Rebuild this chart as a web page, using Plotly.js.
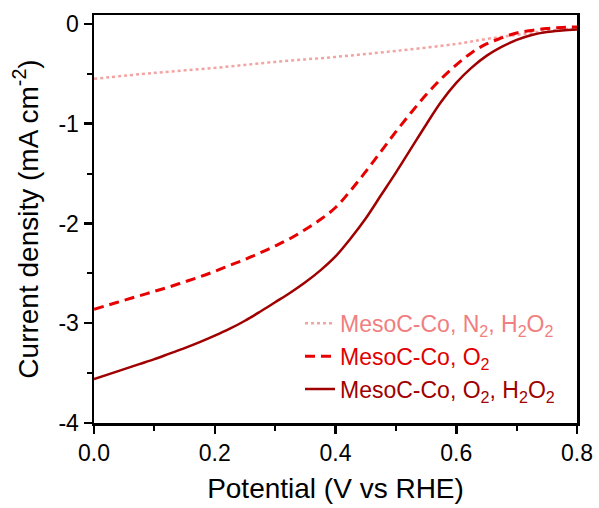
<!DOCTYPE html>
<html>
<head>
<meta charset="utf-8">
<script src="https://cdn.plot.ly/plotly-3.0.1.min.js"></script>
<style>html,body{margin:0;padding:0;background:#fff;}#chart{width:599px;height:508px;}</style>
</head>
<body>
<div id="chart"></div>
<script>
// N2, H2O2 (dotted)
const vN2 = [0, 0.1, 0.2, 0.3, 0.4, 0.5, 0.6, 0.65, 0.7, 0.75, 0.8];
const jN2 = [-0.55, -0.49, -0.44, -0.38, -0.33, -0.27, -0.20, -0.15, -0.11, -0.07, -0.045];

// O2 (dashed)
const vO2 = [0, 0.025, 0.05, 0.075, 0.1, 0.125, 0.15, 0.175, 0.2, 0.225, 0.25, 0.275, 0.3, 0.325, 0.35, 0.375, 0.4, 0.425, 0.45, 0.475, 0.5, 0.525, 0.55, 0.575, 0.6, 0.625, 0.65, 0.675, 0.7, 0.725, 0.75, 0.775, 0.8];
const jO2 = [-2.86, -2.815, -2.77, -2.725, -2.68, -2.635, -2.585, -2.535, -2.48, -2.42, -2.36, -2.295, -2.225, -2.15, -2.06, -1.96, -1.84, -1.67, -1.48, -1.28, -1.08, -0.89, -0.71, -0.55, -0.41, -0.29, -0.20, -0.14, -0.09, -0.065, -0.045, -0.035, -0.03];

// O2, H2O2 (solid)
const vO2H = [0, 0.025, 0.05, 0.075, 0.1, 0.125, 0.15, 0.175, 0.2, 0.225, 0.25, 0.275, 0.3, 0.325, 0.35, 0.375, 0.4, 0.425, 0.45, 0.475, 0.5, 0.525, 0.55, 0.575, 0.6, 0.625, 0.65, 0.675, 0.7, 0.725, 0.75, 0.775, 0.8];
const jO2H = [-3.56, -3.51, -3.46, -3.41, -3.36, -3.305, -3.25, -3.19, -3.125, -3.055, -2.975, -2.885, -2.79, -2.695, -2.59, -2.47, -2.33, -2.15, -1.95, -1.72, -1.49, -1.25, -1.01, -0.78, -0.59, -0.44, -0.32, -0.23, -0.16, -0.11, -0.08, -0.065, -0.055];

const names = [
  '<span style="color:#F08080">MesoC-Co, N<sub>2</sub>, H<sub>2</sub>O<sub>2</sub></span>',
  '<span style="color:#E00000">MesoC-Co, O<sub>2</sub></span>',
  '<span style="color:#A00000">MesoC-Co, O<sub>2</sub>, H<sub>2</sub>O<sub>2</sub></span>'
];

const font = 'Arial, "Liberation Sans", sans-serif';

const traces = [
  {x: vN2, y: jN2, mode: 'lines', name: names[0], line: {color: '#F4A3A3', width: 2.5, dash: 'dot', shape: 'spline'}},
  {x: vO2, y: jO2, mode: 'lines', name: names[1], line: {color: '#E80000', width: 3, dash: '10px,6px', shape: 'spline'}},
  {x: vO2H, y: jO2H, mode: 'lines', name: names[2], line: {color: '#A00000', width: 2.5, shape: 'spline'}}
];

const axisCommon = {
  showline: true, linecolor: '#000', linewidth: 2.5, mirror: true,
  ticks: 'outside', ticklen: 8, tickwidth: 2.5, tickcolor: '#000',
  showgrid: false, zeroline: false,
  tickfont: {family: font, size: 23, color: '#000'}
};

const layout = {
  width: 599, height: 508,
  margin: {l: 94, r: 22, t: 15, b: 85},
  paper_bgcolor: '#fff', plot_bgcolor: '#fff',
  font: {family: font, color: '#000'},
  showlegend: true,
  legend: {x: 0.4265, y: 0.297, xanchor: 'left', yanchor: 'top', bgcolor: 'rgba(0,0,0,0)',
           font: {family: font, size: 23}, tracegroupgap: 0},
  xaxis: Object.assign({}, axisCommon, {
    range: [0, 0.8], tickvals: [0, 0.2, 0.4, 0.6, 0.8], ticktext: ['0.0', '0.2', '0.4', '0.6', '0.8'],
    minor: {dtick: 0.1, tick0: 0, ticks: 'outside', ticklen: 5, tickwidth: 2, tickcolor: '#000'},
    title: {text: 'Potential (V vs RHE)', font: {family: font, size: 28, color: '#000'}, standoff: 14}
  }),
  yaxis: Object.assign({}, axisCommon, {
    range: [-4, 0.09], tickvals: [0, -1, -2, -3, -4], ticktext: ['0', '-1', '-2', '-3', '-4'],
    minor: {dtick: 0.5, tick0: 0, ticks: 'outside', ticklen: 5, tickwidth: 2, tickcolor: '#000'},
    title: {text: 'Current density (mA cm<sup>-2</sup>)', font: {family: font, size: 28, color: '#000'}, standoff: 12}
  })
};

Plotly.newPlot('chart', traces, layout, {displayModeBar: false, staticPlot: true});
</script>
</body>
</html>
